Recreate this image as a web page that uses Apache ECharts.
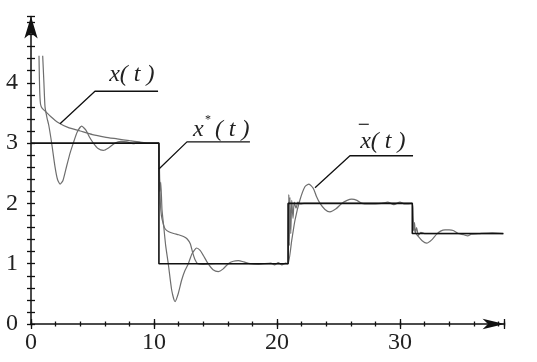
<!DOCTYPE html>
<html><head><meta charset="utf-8">
<script src="https://cdn.jsdelivr.net/npm/echarts@6/dist/echarts.min.js"></script>
<style>html,body{margin:0;padding:0;background:#fff}#c{width:537px;height:362px}</style>
</head><body><div id="c"></div>
<script>
// reference step x*(t)
const stepT = [0, 10.4, 10.4, 20.9, 20.9, 31.0, 31.0, 38.4];
const stepV = [3, 3, 1, 1, 2, 2, 1.5, 1.5];

// x(t): smooth, decaying response
const xT = [0.65, 0.68, 0.72, 0.78, 0.9, 1.2, 1.6, 2.2, 3.0, 4.0, 5.0, 6.0, 7.0, 8.0, 8.8, 9.5, 10.4,
  10.45, 10.52, 10.6, 10.75, 10.9, 11.2, 11.6, 12.0, 12.4, 12.7, 12.95, 13.15, 13.35, 13.55, 14.0, 15.0, 20.9,
  20.92, 20.96, 21.0, 21.05, 21.12, 21.2, 21.3, 21.4, 21.55, 21.7, 21.9, 22.2, 31.0,
  31.05, 31.1, 31.18, 31.25, 31.35, 31.5, 31.7, 32.0, 38.4];
const xV = [4.45, 4.1, 3.8, 3.64, 3.58, 3.52, 3.44, 3.34, 3.26, 3.2, 3.14, 3.1, 3.07, 3.04, 3.02, 3.0, 3.0,
  2.5, 2.0, 1.8, 1.66, 1.58, 1.53, 1.5, 1.48, 1.45, 1.41, 1.33, 1.18, 1.06, 1.0, 0.99, 1.0, 1.0,
  1.5, 2.15, 1.3, 2.1, 1.5, 2.05, 1.75, 2.02, 1.92, 2.02, 1.99, 2.0, 2.0,
  1.75, 1.55, 1.68, 1.5, 1.6, 1.47, 1.52, 1.5, 1.5];

// x-bar(t): oscillating response
const xbT = [0.95, 1.05, 1.14, 1.3, 1.44, 1.68, 1.95, 2.15, 2.36, 2.6, 2.9, 3.2, 3.44, 3.75, 4.12, 4.45, 4.75, 5.07, 5.45, 5.88, 6.3, 6.83, 7.3, 7.8, 8.3, 8.8, 9.3, 10.4,
  10.42, 10.48, 10.55, 10.65, 10.8, 10.95, 11.16, 11.44, 11.71, 11.98, 12.25, 12.5, 12.79, 13.1, 13.47, 13.75, 14.0, 14.4, 14.8, 15.23, 15.6, 16.04, 16.45, 16.85, 17.3, 17.8, 18.5, 19.5, 19.8, 20.1, 20.4, 20.7, 20.9,
  21.2, 21.46, 21.87, 22.28, 22.6, 22.95, 23.2, 23.5, 23.9, 24.3, 24.8, 25.26, 25.7, 26.07, 26.5, 26.9, 27.5, 28.5, 29.0, 29.5, 30.0, 30.4, 31.0,
  31.05, 31.15, 31.3, 31.5, 31.8, 32.17, 32.6, 32.98, 33.3, 33.66, 34.0, 34.33, 34.74, 35.2, 35.5, 35.8, 36.5, 37.5, 38.4];
const xbV = [4.45, 4.0, 3.6, 3.42, 3.3, 3.0, 2.61, 2.4, 2.32, 2.38, 2.62, 2.85, 3.0, 3.18, 3.28, 3.22, 3.1, 3.0, 2.91, 2.88, 2.92, 3.0, 3.03, 3.02, 2.99, 3.01, 3.0, 3.0,
  2.6, 2.2, 2.35, 1.9, 1.6, 1.3, 1.0, 0.56, 0.37, 0.51, 0.73, 0.88, 1.0, 1.17, 1.26, 1.22, 1.14, 1.0, 0.9, 0.87, 0.91, 1.0, 1.04, 1.05, 1.03, 1.0, 0.99, 1.01, 0.98, 1.02, 0.98, 1.01, 1.0,
  1.39, 1.72, 2.06, 2.28, 2.32, 2.25, 2.12, 2.0, 1.9, 1.86, 1.91, 2.0, 2.05, 2.07, 2.05, 2.0, 1.99, 2.0, 2.02, 1.98, 2.02, 1.99, 2.0,
  1.8, 1.6, 1.5, 1.45, 1.38, 1.34, 1.4, 1.49, 1.54, 1.56, 1.56, 1.55, 1.5, 1.48, 1.46, 1.49, 1.5, 1.51, 1.5];

// tick labels
const xTickLabels = [0, 10, 20, 30];
const yTickLabels = [0, 1, 2, 3, 4];

// annotations (data coordinates)
const labelNames = ['x(t)', 'x*(t)', 'x\u0304(t)'];
const labelT = [8.2, 15.6, 28.6];
const labelV = [4.13, 3.23, 3.03];
const leaderT = [[10.33, 5.2, 2.36], [17.8, 12.68, 10.4], [31.06, 25.93, 23.09]];
const leaderV = [[3.86, 3.86, 3.32], [3.02, 3.02, 2.57], [2.79, 2.79, 2.26]];

const zip = (ts, vs) => ts.map((t, i) => [t, vs[i]]);
const AX = '#111';
const FONT = '"Liberation Serif"';

const chart = echarts.init(document.getElementById('c'), null, {renderer: 'canvas'});

function xAx(interval, inside, len, labels, line) {
  return {
    type: 'value', min: 0, max: 38.5, interval: interval, position: 'bottom',
    axisLine: {show: line, onZero: false, symbol: ['none', 'arrow'], symbolSize: [8, 22], lineStyle: {color: AX, width: 1.5}},
    axisTick: {show: true, inside: inside, length: len, lineStyle: {color: AX, width: 1.3}},
    axisLabel: {show: labels, margin: 7, fontFamily: FONT, fontSize: 24, color: '#222',
      formatter: v => xTickLabels.indexOf(Math.round(v * 1000) / 1000) >= 0 ? String(v) : ''},
    splitLine: {show: false}
  };
}
function yAx(inside, labels, line) {
  return {
    type: 'value', min: 0, max: 5.1, interval: 0.2, position: 'left',
    axisLine: {show: line, onZero: false, symbol: ['none', 'arrow'], symbolSize: [10, 22], lineStyle: {color: AX, width: 1.5}},
    axisTick: {show: true, inside: inside, length: 4, lineStyle: {color: AX, width: 1.3}},
    axisLabel: {show: labels, margin: 13, fontFamily: FONT, fontSize: 24, color: '#222',
      formatter: v => { const r = Math.round(v); return (Math.abs(v - r) < 1e-6 && yTickLabels.indexOf(r) >= 0) ? String(r) : ''; }},
    splitLine: {show: false}
  };
}

const leaderSeries = leaderT.map((ts, i) => ({
  type: 'line', data: zip(ts, leaderV[i]), showSymbol: false, silent: true, animation: false,
  lineStyle: {color: '#111', width: 1.3}, z: 5
}));

chart.setOption({
  animation: false,
  backgroundColor: '#fff',
  grid: {left: 31, right: 32.45, top: 16.47, bottom: 38, containLabel: false},
  xAxis: [xAx(2, false, 2.5, false, true), xAx(2, true, 2.5, false, false), xAx(10, false, 5, true, false), xAx(10, true, 5, false, false)],
  yAxis: [yAx(false, true, true), yAx(true, false, false)],
  series: [
    {type: 'line', name: 'x(t)', data: zip(xT, xV), showSymbol: false, smooth: 0.2, lineStyle: {color: '#6e6e6e', width: 1.2}, z: 2},
    {type: 'line', name: labelNames[2], data: zip(xbT, xbV), showSymbol: false, smooth: 0.2, lineStyle: {color: '#6e6e6e', width: 1.2}, z: 2},
    {type: 'line', name: 'x*(t)', data: zip(stepT, stepV), showSymbol: false, lineStyle: {color: '#111', width: 1.6}, z: 3}
  ].concat(leaderSeries)
});

const P = labelT.map((t, i) => chart.convertToPixel({gridIndex: 0}, [t, labelV[i]]));
const tfont = 'italic 24px "Liberation Serif"';
const tx = (x, y, text, align, font) => ({type: 'text', x: x, y: y, style: {text: text, font: font || tfont, fill: '#222', align: align, verticalAlign: 'middle'}});
chart.setOption({
  graphic: [
    tx(P[0][0], P[0][1], 'x( t )', 'center'),
    tx(P[1][0] - 30, P[1][1], 'x', 'left'),
    tx(P[1][0] - 18, P[1][1] - 9, '*', 'left', '12px "Liberation Serif"'),
    tx(P[1][0] - 8, P[1][1], '( t )', 'left'),
    tx(P[2][0], P[2][1], 'x( t )', 'center'),
    {type: 'line', shape: {x1: P[2][0] - 24, y1: P[2][1] - 17, x2: P[2][0] - 14, y2: P[2][1] - 17}, style: {stroke: '#222', lineWidth: 1.2}}
  ]
});
</script></body></html>
